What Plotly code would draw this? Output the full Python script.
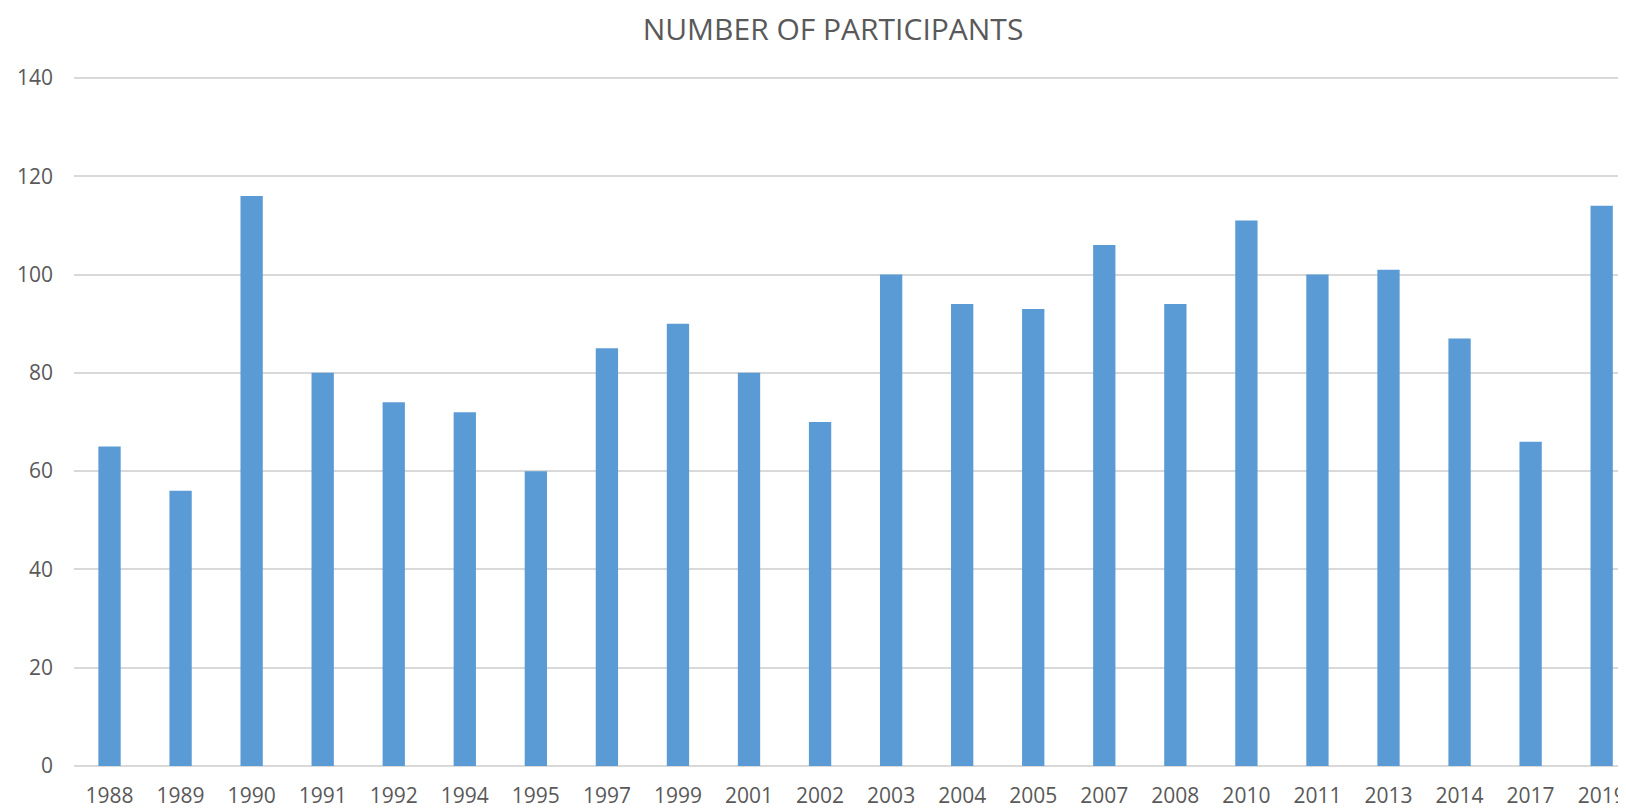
import plotly.graph_objects as go

years = ["1988", "1989", "1990", "1991", "1992", "1994", "1995", "1997", "1999", "2001",
         "2002", "2003", "2004", "2005", "2007", "2008", "2010", "2011", "2013", "2014",
         "2017", "2019"]
participants = [65, 56, 116, 80, 74, 72, 60, 85, 90, 80,
                70, 100, 94, 93, 106, 94, 111, 100, 101, 87,
                66, 114]
y_ticks = [0, 20, 40, 60, 80, 100, 120, 140]

FONT = "Open Sans"
TEXT = "#595959"
GRID = "#d9d9d9"
BAR = "#5b9bd5"

# page body has an 8px default margin, so the figure is sized to fill the rest
W, H = 1618, 801

fig = go.Figure(go.Bar(x=years, y=participants, marker=dict(color=BAR, line=dict(width=0))))

fig.update_layout(
    width=W, height=H,
    margin=dict(l=66, r=0, t=68, b=41, pad=0),
    paper_bgcolor="white", plot_bgcolor="white",
    bargap=0.686,
    showlegend=False,
    title=dict(text="NUMBER OF PARTICIPANTS", x=825/W, xanchor="center",
               y=1 - 21/H, yanchor="middle",
               font=dict(family=FONT, size=30, color=TEXT)),
    font=dict(family=FONT, color=TEXT, size=21),
)
fig.update_xaxes(type="category", range=[-0.5, -0.5 + 1552/71.1], tickangle=0,
                 showgrid=False, showline=False, ticks="", ticklabelstandoff=15,
                 tickfont=dict(family=FONT, size=21, color=TEXT))
fig.update_yaxes(range=[0, 140.4], tickvals=y_ticks, showgrid=True, gridcolor=GRID,
                 gridwidth=1.5, zeroline=True, zerolinecolor=GRID, zerolinewidth=1.5,
                 showline=False, ticks="", ticklabelstandoff=20,
                 tickfont=dict(family=FONT, size=21, color=TEXT))

fig.write_html("out.html")
